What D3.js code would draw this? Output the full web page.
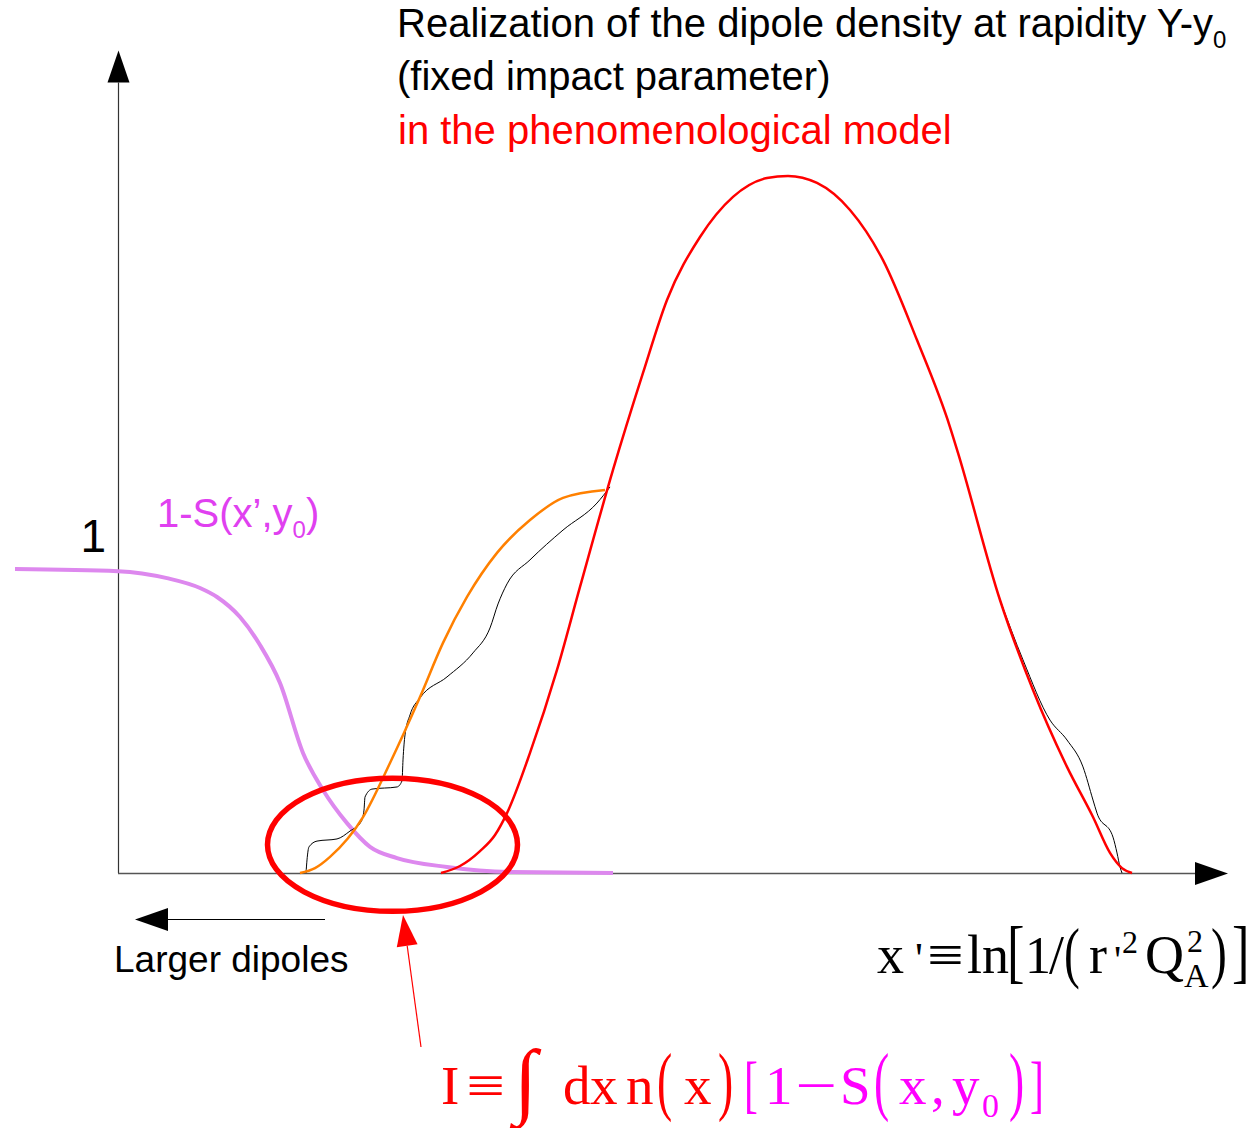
<!DOCTYPE html>
<html>
<head>
<meta charset="utf-8">
<script src="https://cdn.jsdelivr.net/npm/d3@7/dist/d3.min.js"></script>
<style>
  html, body { margin: 0; padding: 0; background: #ffffff; }
  svg { display: block; }
</style>
</head>
<body>
<svg id="chart" width="1257" height="1128"></svg>
<script>
// x' in units of the axis (origin at the y-axis), y in units of the saturation level 1

// phenomenological model of the dipole density n(x')
const modelX = [3.23, 3.42, 3.62, 3.77, 3.89, 4.12, 4.39, 4.62, 4.95, 5.25, 5.49, 5.82, 6.15, 6.49, 6.70,
                6.99, 7.32, 7.65, 7.99, 8.32, 8.40, 8.82, 9.15, 9.49, 9.75, 9.92, 10.04, 10.14];
const modelY = [0, 0.023, 0.072, 0.125, 0.197, 0.395, 0.668, 0.941, 1.326, 1.645, 1.885, 2.092, 2.224, 2.286, 2.293,
                2.270, 2.181, 2.016, 1.753, 1.467, 1.382, 0.898, 0.602, 0.349, 0.184, 0.066, 0.016, 0];

// smoothed front of the density
const frontX = [1.82, 1.97, 2.12, 2.45, 2.72, 3.02, 3.25, 3.49, 3.79, 4.12, 4.45, 4.87];
const frontY = [0, 0.016, 0.053, 0.184, 0.362, 0.579, 0.757, 0.908, 1.053, 1.161, 1.234, 1.260];

// one realization of the density: the fluctuating left tail ...
const realLeftX = [1.88, 1.89, 1.91, 1.99, 2.19, 2.32, 2.43, 2.46, 2.47, 2.54, 2.79, 2.84, 2.85, 2.87, 2.92,
                   3.02, 3.29, 3.55, 3.72, 3.80, 3.89, 4.12, 4.45, 4.79, 4.92];
const realLeftY = [0, 0.043, 0.086, 0.105, 0.112, 0.138, 0.168, 0.207, 0.250, 0.276, 0.283, 0.303, 0.372, 0.454, 0.520,
                   0.576, 0.645, 0.724, 0.806, 0.885, 0.951, 1.030, 1.128, 1.217, 1.270];
// ... and the right tail (the body coincides with the model)
const realRightX = [8.82, 9.05, 9.32, 9.49, 9.65, 9.75, 9.79, 9.95, 9.99, 10.02, 10.04];
const realRightY = [0.898, 0.701, 0.503, 0.4375, 0.349, 0.240, 0.197, 0.118, 0.066, 0.020, 0];

// scattering amplitude 1 - S(x', y0)
const ampX = [-1.03, 0, 0.49, 0.82, 0.99, 1.22, 1.42, 1.62, 1.85, 2.05, 2.29, 2.52, 2.79, 3.29, 3.95, 4.95];
const ampY = [1.0, 0.993, 0.970, 0.9375, 0.908, 0.842, 0.75, 0.625, 0.395, 0.273, 0.164, 0.086, 0.049, 0.020, 0.003, 0];

// integration region highlighted by the ellipse: centre and half-widths
const regionCentre = [2.745, 0.093];
const regionHalf = [1.25, 0.219];

// axis extents and tick label
const xAxisEnd = 11.1;
const yAxisEnd = 2.6;
const yTickLabels = ["1"];

const W = 1257, H = 1128;
const svg = d3.select("#chart");
svg.append("rect").attr("width", W).attr("height", H).attr("fill", "#ffffff");

const x = d3.scaleLinear().domain([0, 10]).range([118, 1118]);
const y = d3.scaleLinear().domain([0, 1]).range([873, 569]);

const zip = (xs, ys) => xs.map((v, i) => [v, ys[i]]);
const line = d3.line().x(d => x(d[0])).y(d => y(d[1])).curve(d3.curveMonotoneX);

const SANS = "'Liberation Sans', Arial, sans-serif";
const SERIF = "'Liberation Serif', 'Times New Roman', serif";

// ---- axes ----
const axes = svg.append("g");
axes.append("line")
  .attr("x1", x(0) + 0.5).attr("x2", x(0) + 0.5)
  .attr("y1", y(0)).attr("y2", y(yAxisEnd))
  .attr("stroke", "#333").attr("stroke-width", 1.2);
const yTip = y(yAxisEnd) - 32;
axes.append("path")
  .attr("d", `M${x(0) + 0.5},${yTip} L${x(0) - 10.5},${y(yAxisEnd)} L${x(0) + 11.5},${y(yAxisEnd)} Z`)
  .attr("fill", "#000");

axes.append("line")
  .attr("x1", x(0)).attr("x2", x(xAxisEnd) - 33)
  .attr("y1", y(0) + 0.5).attr("y2", y(0) + 0.5)
  .attr("stroke", "#555").attr("stroke-width", 1.3);
const xTip = x(xAxisEnd);
axes.append("path")
  .attr("d", `M${xTip},${y(0) + 0.5} L${xTip - 33},${y(0) - 11} L${xTip - 33},${y(0) + 12} Z`)
  .attr("fill", "#000");

axes.selectAll("text.ytick").data(yTickLabels).enter().append("text")
  .attr("class", "ytick")
  .attr("x", x(0) - 12).attr("y", d => y(+d) - 17)
  .attr("text-anchor", "end")
  .attr("font-family", SANS).attr("font-size", 46)
  .attr("fill", "#000")
  .text(d => d);

// ---- curves ----
svg.append("path").attr("d", line(zip(ampX, ampY)))
  .attr("fill", "none").attr("stroke", "#dd88ee").attr("stroke-width", 4);

svg.append("path").attr("d", line(zip(realLeftX, realLeftY)))
  .attr("fill", "none").attr("stroke", "#000").attr("stroke-width", 1);
svg.append("path").attr("d", line(zip(realRightX, realRightY)))
  .attr("fill", "none").attr("stroke", "#000").attr("stroke-width", 1);

svg.append("path").attr("d", line(zip(frontX, frontY)))
  .attr("fill", "none").attr("stroke", "#ff8000").attr("stroke-width", 2.5);

svg.append("path").attr("d", line(zip(modelX, modelY)))
  .attr("fill", "none").attr("stroke", "#ff0000").attr("stroke-width", 2.5);

// ellipse marking the overlap region
svg.append("ellipse")
  .attr("cx", x(regionCentre[0])).attr("cy", y(regionCentre[1]))
  .attr("rx", x(regionHalf[0]) - x(0)).attr("ry", y(0) - y(regionHalf[1]))
  .attr("fill", "none").attr("stroke", "#ff0000").attr("stroke-width", 5.5);

// ---- title ----
const title = svg.append("g").attr("font-family", SANS).attr("font-size", 40);
const t1 = title.append("text").attr("x", 397).attr("y", 37).attr("fill", "#000");
t1.append("tspan").text("Realization of the dipole density at rapidity Y-y");
t1.append("tspan").attr("font-size", 24).attr("dy", 11).text("0");
title.append("text").attr("x", 397).attr("y", 90).attr("fill", "#000").text("(fixed impact parameter)");
title.append("text").attr("x", 398).attr("y", 144).attr("fill", "#ff0000").text("in the phenomenological model");

// ---- amplitude label ----
const al = svg.append("text").attr("x", 157).attr("y", 527)
  .attr("font-family", SANS).attr("font-size", 40).attr("fill", "#e040f0");
al.append("tspan").text("1-S(x\u2019,y");
al.append("tspan").attr("font-size", 24).attr("dy", 11).text("0");
al.append("tspan").attr("dy", -11).text(")");

// ---- larger dipoles arrow ----
svg.append("line").attr("x1", 325).attr("x2", 166).attr("y1", 919.5).attr("y2", 919.5)
  .attr("stroke", "#000").attr("stroke-width", 1.2);
svg.append("path").attr("d", "M135,919.5 L168,908 L168,931 Z").attr("fill", "#000");
svg.append("text").attr("x", 114).attr("y", 972)
  .attr("font-family", SANS).attr("font-size", 37).attr("fill", "#000").text("Larger dipoles");

// ---- pointer from formula to the ellipse ----
{
  const tip = [403, 915], tail = [421, 1047];
  const dx = tip[0] - tail[0], dy = tip[1] - tail[1];
  const L = Math.hypot(dx, dy), ux = dx / L, uy = dy / L;
  const bx = tip[0] - 31 * ux, by = tip[1] - 31 * uy;
  svg.append("line").attr("x1", tail[0]).attr("y1", tail[1]).attr("x2", bx).attr("y2", by)
    .attr("stroke", "#ff0000").attr("stroke-width", 1.2);
  svg.append("path")
    .attr("d", `M${tip[0]},${tip[1]} L${bx - 10.5 * uy},${by + 10.5 * ux} L${bx + 10.5 * uy},${by - 10.5 * ux} Z`)
    .attr("fill", "#ff0000");
}

// ---- math-style formula helper: each glyph placed at its own x ----
function formula(pieces, baseline, size, color) {
  const g = svg.append("g").attr("font-family", SERIF);
  pieces.forEach(p => {
    const fs = p.s || size;
    const sx = p.sx || 1;
    g.append("text")
      .attr("transform", `translate(${p.x},${baseline + (p.dy || 0)}) scale(${sx},${p.sy || 1})`)
      .attr("font-size", fs)
      .attr("fill", p.c || color)
      .text(p.t);
  });
}

// x' = ln[1/(r'^2 Q_A^2)]
formula([
  { t: "x", x: 877 },
  { t: "'", x: 915, s: 44 },
  { t: "\u2261", x: 927, s: 54, sx: 1.2 },
  { t: "ln", x: 967 },
  { t: "[", x: 1007, s: 70, sx: 0.75, dy: 2 },
  { t: "1", x: 1025, s: 52 },
  { t: "/", x: 1049 },
  { t: "(", x: 1064, s: 68, sx: 0.7, dy: 2 },
  { t: "r", x: 1089 },
  { t: "'", x: 1114, s: 40 },
  { t: "2", x: 1122, s: 32, dy: -20 },
  { t: "Q", x: 1145 },
  { t: "2", x: 1187, s: 32, dy: -21 },
  { t: "A", x: 1184, s: 34, dy: 14 },
  { t: ")", x: 1211, s: 68, sx: 0.7, dy: 2 },
  { t: "]", x: 1232, s: 70, sx: 0.75, dy: 2 }
], 973, 54, "#000");

// I = integral dx n(x) [1 - S(x, y0)]
const RED = "#ff0000", MAG = "#ff00ff";
formula([
  { t: "I", x: 441, c: RED },
  { t: "\u2261", x: 466, s: 55, sx: 1.25, c: RED },
  { t: "\u222B", x: 514, s: 84, c: RED, dy: 4 },
  { t: "d", x: 563, c: RED },
  { t: "x", x: 590, c: RED },
  { t: "n", x: 626, c: RED },
  { t: "(", x: 657, s: 76, sx: 0.6, c: RED, dy: 2 },
  { t: "x", x: 684, c: RED },
  { t: ")", x: 718, s: 76, sx: 0.6, c: RED, dy: 2 },
  { t: "[", x: 744, s: 64, sx: 0.65, c: MAG, dy: 1 },
  { t: "1", x: 765, c: MAG },
  { t: "\u2212", x: 795, s: 55, sx: 1.35, c: MAG },
  { t: "S", x: 840, c: MAG },
  { t: "(", x: 874, s: 76, sx: 0.6, c: MAG, dy: 2 },
  { t: "x", x: 899, c: MAG },
  { t: ",", x: 931, c: MAG },
  { t: "y", x: 952, c: MAG },
  { t: "0", x: 982, s: 34, c: MAG, dy: 13 },
  { t: ")", x: 1009, s: 76, sx: 0.6, c: MAG, dy: 2 },
  { t: "]", x: 1030, s: 64, sx: 0.65, c: MAG, dy: 1 }
], 1104, 55, RED);
</script>
</body>
</html>
